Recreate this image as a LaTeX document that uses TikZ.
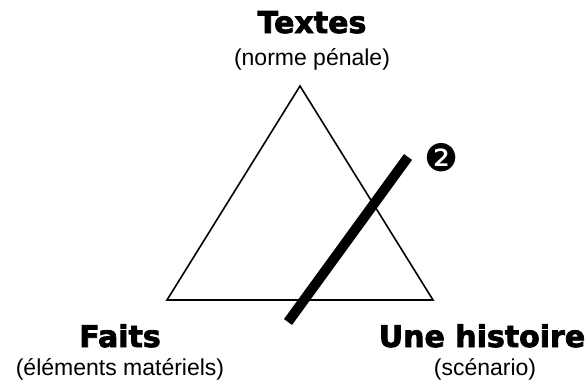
\documentclass[tikz,border=0pt]{standalone}
\usepackage{fontspec}
\setmainfont{Liberation Sans}
\newfontfamily\heavyfont{DejaVu Sans Bold}[FakeBold=2.5]
\newfontfamily\dingfont{DejaVu Sans}
\usetikzlibrary{positioning}

\begin{document}
\begin{tikzpicture}[
  x=1pt, y=-1pt,
  title/.style={anchor=base, inner sep=0pt, font=\heavyfont\fontsize{30}{31}\selectfont},
  sub/.style={anchor=base, inner sep=0pt, font=\fontsize{23}{24}\selectfont},
  edge/.style={draw=black, line width=1.6pt, line join=miter},
  bar/.style={draw=black, line width=10pt}
]
\useasboundingbox (0,0) rectangle (586,383);

\coordinate (top) at (300,86);
\coordinate (left) at (167,300);
\coordinate (right) at (433,300);

\draw[edge] (top) -- (left) -- (right) -- cycle;

\node[title] (textes) at (312,33) {Textes};
\node[sub] (textes-sub) at (312,65) {(norme pénale)};

\node[title] (faits) at (120,347) {Faits};
\node[sub] (faits-sub) at (120,375) {(éléments matériels)};

\node[title] (histoire) at (482,347) {Une histoire};
\node[sub] (histoire-sub) at (485,375) {(scénario)};

% la coupure
\coordinate (cut-a) at (288,322);
\coordinate (cut-b) at (408,157);
\draw[bar] (cut-a) -- (cut-b);
\node[font=\dingfont\fontsize{38}{38}\selectfont, inner sep=0pt] (mark) at (442,158) {❷};

\end{tikzpicture}
\end{document}
